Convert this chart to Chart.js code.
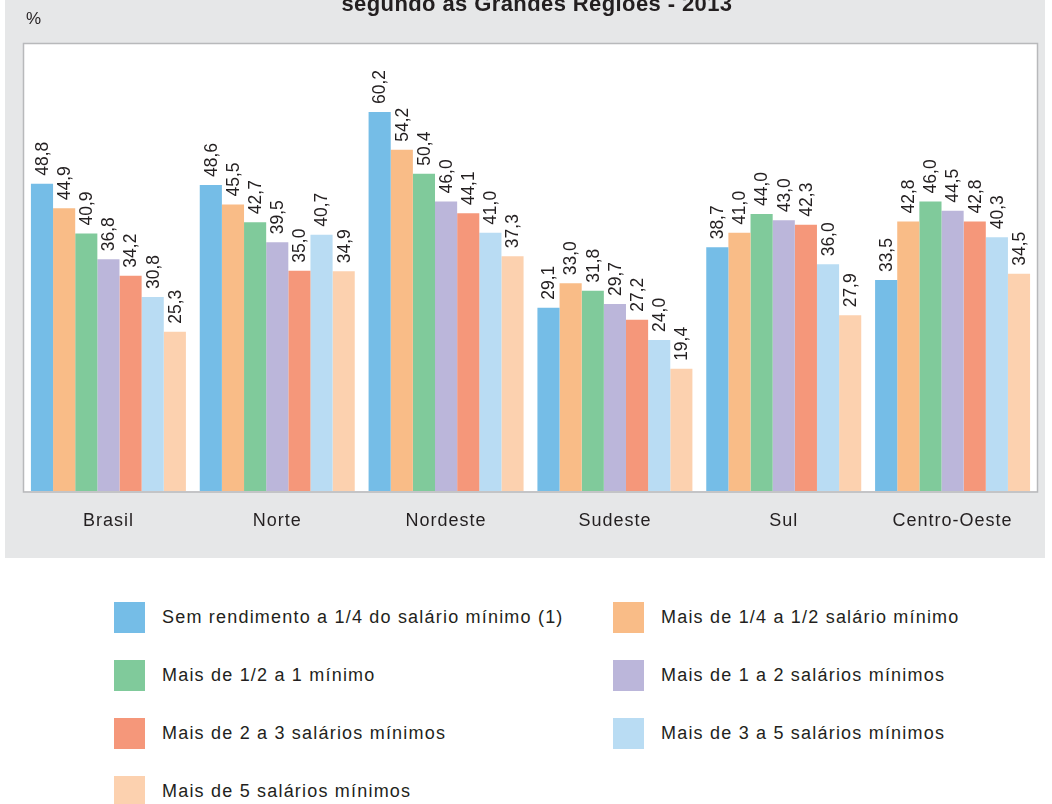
<!DOCTYPE html>
<html>
<head>
<meta charset="utf-8">
<script src="https://cdn.jsdelivr.net/npm/chart.js@4.4.0/dist/chart.umd.min.js"></script>
<style>
  html, body { margin:0; padding:0; background:#ffffff; width:1052px; height:804px; overflow:hidden; font-family:"Liberation Sans", Arial, sans-serif; }
  #wrap { position:absolute; left:0; top:0; width:1052px; height:560px; }
  #title { position:absolute; left:0; width:1074px; top:-7px; text-align:center; font-weight:bold; font-size:22px; line-height:22px; letter-spacing:0.4px; color:#231f20; white-space:nowrap; }
  #unit { position:absolute; left:26px; top:9px; font-size:17px; color:#231f20; }
  .leg { position:absolute; height:31px; display:flex; align-items:center; font-size:18px; letter-spacing:1.2px; color:#231f20; white-space:nowrap; }
  .sw { width:31px; height:31px; margin-right:17px; flex:none; }
</style>
</head>
<body>
<div id="wrap"><canvas id="c" width="1052" height="560"></canvas></div>
<div id="title">segundo as Grandes Regiões - 2013</div>
<div id="unit">%</div>
<div id="legend"></div>
<script>
const categories = ["Brasil", "Norte", "Nordeste", "Sudeste", "Sul", "Centro-Oeste"];
const seriesNames = [
  "Sem rendimento a 1/4 do salário mínimo (1)",
  "Mais de 1/4 a 1/2 salário mínimo",
  "Mais de 1/2 a 1 mínimo",
  "Mais de 1 a 2 salários mínimos",
  "Mais de 2 a 3 salários mínimos",
  "Mais de 3 a 5 salários mínimos",
  "Mais de 5 salários mínimos"
];
const semAte14   = [48.8, 48.6, 60.2, 29.1, 38.7, 33.5];
const de14a12    = [44.9, 45.5, 54.2, 33.0, 41.0, 42.8];
const de12a1     = [40.9, 42.7, 50.4, 31.8, 44.0, 46.0];
const de1a2      = [36.8, 39.5, 46.0, 29.7, 43.0, 44.5];
const de2a3      = [34.2, 35.0, 44.1, 27.2, 42.3, 42.8];
const de3a5      = [30.8, 40.7, 41.0, 24.0, 36.0, 40.3];
const mais5      = [25.3, 34.9, 37.3, 19.4, 27.9, 34.5];
const seriesValues = [semAte14, de14a12, de12a1, de1a2, de2a3, de3a5, mais5];
const colors = ["#75bde7", "#f9bc87", "#80ca9b", "#bbb6da", "#f5977a", "#b9dcf3", "#fcd1af"];

const fmt = v => v.toFixed(1).replace('.', ',');

const bgPlugin = {
  id: 'bg',
  beforeDraw(chart) {
    const ctx = chart.ctx, a = chart.chartArea;
    ctx.save();
    ctx.fillStyle = '#e6e7e8';
    ctx.fillRect(5, 0, 1040, 558);
    ctx.fillStyle = '#ffffff';
    ctx.fillRect(a.left, a.top, a.right - a.left, a.bottom - a.top);
    ctx.strokeStyle = '#b8b9bb';
    ctx.lineWidth = 1.5;
    ctx.strokeRect(a.left - 0.5, a.top - 0.5, a.right - a.left + 1, a.bottom - a.top + 1.5);
    ctx.restore();
    ctx.letterSpacing = '1px';
  },
  beforeDatasetsDraw(chart) {
    chart.ctx.letterSpacing = '0px';
  }
};

const labelPlugin = {
  id: 'vlabels',
  afterDatasetsDraw(chart) {
    const ctx = chart.ctx;
    ctx.save();
    ctx.letterSpacing = '0px';
    ctx.font = '17.5px "Liberation Sans", Arial, sans-serif';
    ctx.fillStyle = '#231f20';
    ctx.textAlign = 'left';
    ctx.textBaseline = 'middle';
    chart.data.datasets.forEach((ds, i) => {
      const meta = chart.getDatasetMeta(i);
      meta.data.forEach((bar, j) => {
        ctx.save();
        ctx.translate(bar.x + 1, bar.y - 8);
        ctx.rotate(-Math.PI / 2);
        ctx.fillText(fmt(ds.data[j]), 0, 0);
        ctx.restore();
      });
    });
    ctx.restore();
  }
};

new Chart(document.getElementById('c'), {
  type: 'bar',
  data: {
    labels: categories,
    datasets: seriesNames.map((n, i) => ({
      label: n,
      data: seriesValues[i],
      backgroundColor: colors[i],
      borderWidth: 0,
      categoryPercentage: 0.918,
      barPercentage: 1.0
    }))
  },
  options: {
    responsive: false,
    animation: false,
    layout: { padding: { left: 24, right: 15, top: 44, bottom: 19 } },
    plugins: { legend: { display: false }, tooltip: { enabled: false }, title: { display: false } },
    scales: {
      x: {
        grid: { display: false, drawTicks: false },
        border: { display: false },
        ticks: { color: '#231f20', font: { family: '"Liberation Sans", Arial, sans-serif', size: 18 }, padding: 19 },
        afterFit(axis) { axis.height = 50; }
      },
      y: { display: false, min: 0, max: 71 }
    }
  },
  plugins: [bgPlugin, labelPlugin]
});

const leg = document.getElementById('legend');
seriesNames.forEach((n, i) => {
  const col = i % 2, row = Math.floor(i / 2);
  const d = document.createElement('div');
  d.className = 'leg';
  d.style.left = (col === 0 ? 114 : 613) + 'px';
  d.style.top = (602 + row * 58) + 'px';
  const s = document.createElement('span');
  s.className = 'sw';
  s.style.background = colors[i];
  const t = document.createElement('span');
  t.textContent = n;
  d.appendChild(s); d.appendChild(t);
  leg.appendChild(d);
});
</script>
</body>
</html>
